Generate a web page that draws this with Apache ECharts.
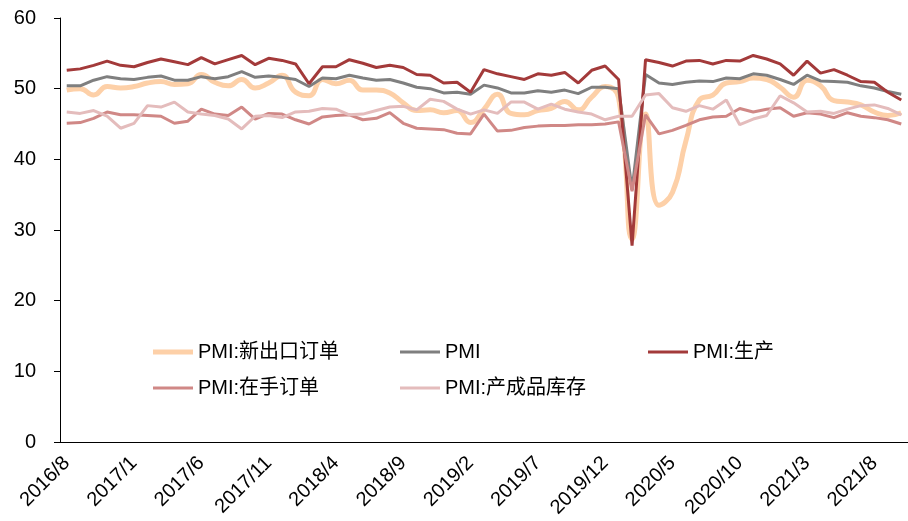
<!DOCTYPE html>
<html>
<head>
<meta charset="utf-8">
<script src="https://cdn.jsdelivr.net/npm/echarts@6/dist/echarts.min.js"></script>
<style>
  html, body { margin: 0; padding: 0; background: #fff; }
  #chart { width: 908px; height: 521px; }
</style>
</head>
<body>
<div id="chart"></div>
<script>
const months = [
  "2016/8", "2016/9", "2016/10", "2016/11", "2016/12",
  "2017/1", "2017/2", "2017/3", "2017/4", "2017/5", "2017/6", "2017/7", "2017/8", "2017/9", "2017/10", "2017/11", "2017/12",
  "2018/1", "2018/2", "2018/3", "2018/4", "2018/5", "2018/6", "2018/7", "2018/8", "2018/9", "2018/10", "2018/11", "2018/12",
  "2019/1", "2019/2", "2019/3", "2019/4", "2019/5", "2019/6", "2019/7", "2019/8", "2019/9", "2019/10", "2019/11", "2019/12",
  "2020/1", "2020/2", "2020/3", "2020/4", "2020/5", "2020/6", "2020/7", "2020/8", "2020/9", "2020/10", "2020/11", "2020/12",
  "2021/1", "2021/2", "2021/3", "2021/4", "2021/5", "2021/6", "2021/7", "2021/8", "2021/9", "2021/10"
];

// PMI:新出口订单
const exportOrders = [
  49.8, 50.0, 49.1, 50.3, 50.1,
  50.3, 50.8, 51.0, 50.6, 50.7, 52.0, 50.9, 50.4, 51.3, 50.1, 50.8, 51.9,
  49.5, 49.0, 51.3, 50.7, 51.2, 49.8, 49.8, 49.4, 48.0, 46.9, 47.0, 46.6,
  46.9, 45.2, 47.1, 49.2, 46.5, 46.3, 46.9, 47.2, 48.2, 47.0, 48.8, 50.3,
  48.7, 28.7, 46.4, 33.5, 35.3, 42.6, 48.4, 49.1, 50.8, 51.0, 51.5, 51.3,
  50.2, 48.8, 51.2, 50.4, 48.3, 48.1, 47.7, 46.7, 46.2, 46.6
];

// PMI
const pmi = [
  50.4, 50.4, 51.2, 51.7, 51.4,
  51.3, 51.6, 51.8, 51.2, 51.2, 51.7, 51.4, 51.7, 52.4, 51.6, 51.8, 51.6,
  51.3, 50.3, 51.5, 51.4, 51.9, 51.5, 51.2, 51.3, 50.8, 50.2, 50.0, 49.4,
  49.5, 49.2, 50.5, 50.1, 49.4, 49.4, 49.7, 49.5, 49.8, 49.3, 50.2, 50.2,
  50.0, 35.7, 52.0, 50.8, 50.6, 50.9, 51.1, 51.0, 51.5, 51.4, 52.1, 51.9,
  51.3, 50.6, 51.9, 51.1, 51.0, 50.9, 50.4, 50.1, 49.6, 49.2
];

// PMI:生产
const production = [
  52.6, 52.8, 53.3, 53.9, 53.3,
  53.1, 53.7, 54.2, 53.8, 53.4, 54.4, 53.5, 54.1, 54.7, 53.4, 54.3, 54.0,
  53.5, 50.7, 53.1, 53.1, 54.1, 53.6, 53.0, 53.3, 53.0, 52.0, 51.9, 50.8,
  50.9, 49.5, 52.7, 52.1, 51.7, 51.3, 52.1, 51.9, 52.3, 50.8, 52.6, 53.2,
  51.3, 27.8, 54.1, 53.7, 53.2, 53.9, 54.0, 53.5, 54.0, 53.9, 54.7, 54.2,
  53.5, 51.9, 53.9, 52.2, 52.7, 51.9, 51.0, 50.9, 49.5, 48.4
];

// PMI:在手订单
const backlog = [
  45.1, 45.2, 45.8, 46.7, 46.3,
  46.3, 46.2, 46.1, 45.1, 45.4, 47.1, 46.4, 46.2, 47.4, 45.7, 46.5, 46.4,
  45.6, 45.0, 46.0, 46.2, 46.3, 45.6, 45.8, 46.6, 45.1, 44.4, 44.3, 44.2,
  43.7, 43.6, 46.4, 44.0, 44.1, 44.5, 44.7, 44.8, 44.8, 44.9, 44.9, 45.0,
  45.3, 35.5, 46.3, 43.6, 44.1, 44.8, 45.6, 46.0, 46.1, 47.2, 46.7, 47.1,
  47.3, 46.1, 46.6, 46.4, 45.9, 46.6, 46.1, 45.9, 45.6, 45.0
];

// PMI:产成品库存
const inventory = [
  46.7, 46.5, 46.9, 46.1, 44.4,
  45.1, 47.6, 47.4, 48.1, 46.7, 46.4, 46.2, 45.7, 44.3, 46.1, 46.2, 45.9,
  46.7, 46.8, 47.2, 47.1, 46.3, 46.4, 46.9, 47.4, 47.5, 47.0, 48.5, 48.2,
  47.1, 46.4, 47.0, 46.5, 48.1, 48.1, 47.1, 47.8, 47.1, 46.7, 46.4, 45.6,
  46.1, 46.1, 49.1, 49.3, 47.3, 46.8, 47.6, 47.1, 48.4, 44.9, 45.7, 46.2,
  49.0, 48.0, 46.7, 46.8, 46.5, 47.1, 47.6, 47.7, 47.2, 46.3
];

const font = "Arial, 'Liberation Sans', 'Noto Sans CJK SC', sans-serif";

const chart = echarts.init(document.getElementById("chart"));

// one legend per item so the 3-column layout can be placed freely
function legendAt(name, left, top, thick) {
  return {
    data: [name],
    left: left,
    top: top,
    padding: 0,
    icon: "rect",
    itemWidth: 40,
    itemHeight: thick,
    textStyle: { fontSize: 20, color: "#000", fontFamily: font }
  };
}

function lineSeries(name, data, color, width, smooth) {
  return {
    name: name,
    type: "line",
    data: data,
    smooth: smooth,
    symbol: "none",
    lineStyle: { color: color, width: width },
    itemStyle: { color: color }
  };
}

const option = {
  animation: false,
  backgroundColor: "#fff",
  textStyle: { fontFamily: font },
  grid: { left: 60, right: 0, top: 18, bottom: 79 },
  legend: [
    legendAt("PMI:新出口订单", 153, 342, 5),
    legendAt("PMI", 400, 342, 3),
    legendAt("PMI:生产", 648, 342, 3),
    legendAt("PMI:在手订单", 153, 378, 3),
    legendAt("PMI:产成品库存", 400, 378, 3)
  ],
  xAxis: {
    type: "category",
    data: months,
    boundaryGap: true,
    axisLine: { lineStyle: { color: "#000", width: 1 } },
    axisTick: { interval: 4, length: 6, lineStyle: { color: "#000" } },
    axisLabel: { interval: 4, rotate: 45, fontSize: 20, color: "#000", margin: 18, fontFamily: font }
  },
  yAxis: {
    type: "value",
    min: 0,
    max: 60,
    interval: 10,
    axisLine: { show: true, lineStyle: { color: "#000", width: 1 } },
    axisTick: { show: true, length: 6, lineStyle: { color: "#000" } },
    splitLine: { show: false },
    axisLabel: { fontSize: 20, color: "#000", margin: 24, fontFamily: font }
  },
  series: [
    lineSeries("PMI:新出口订单", exportOrders, "#FDD0A8", 5, true),
    lineSeries("PMI", pmi, "#7F7F7F", 3, false),
    lineSeries("PMI:生产", production, "#A33A3A", 3, false),
    lineSeries("PMI:在手订单", backlog, "#D08886", 3, false),
    lineSeries("PMI:产成品库存", inventory, "#E4BCBC", 3, false)
  ]
};

chart.setOption(option);
window.addEventListener("resize", function () { chart.resize(); });
</script>
</body>
</html>
